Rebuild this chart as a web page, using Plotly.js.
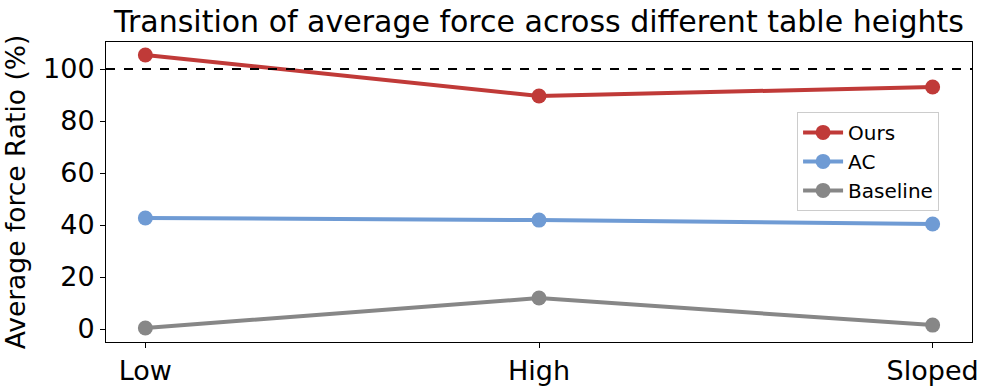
<!DOCTYPE html>
<html>
<head>
<meta charset="utf-8">
<script src="https://cdn.plot.ly/plotly-3.0.1.min.js"></script>
<style>
  body { margin: 0; background: #fff; }
  #chart { width: 986px; height: 390px; }
</style>
</head>
<body>
<div id="chart"></div>
<script>
// Table height conditions
const heights = ['Low', 'High', 'Sloped'];

// Average force ratio (%) per method
const oursValues = [105.4, 89.6, 93.1];
const acValues = [42.7, 41.9, 40.4];
const baselineValues = [0.4, 11.9, 1.5];

const referenceLevel = 100;

function lineTrace(name, values, color) {
    return {
        type: 'scatter',
        mode: 'lines+markers',
        x: [0, 1, 2],
        y: values,
        name: name,
        line: { color: color, width: 4 },
        marker: { color: color, size: 15 }
    };
}

const data = [
    lineTrace('Ours', oursValues, '#c03a38'),
    lineTrace('AC', acValues, '#6f9bd4'),
    lineTrace('Baseline', baselineValues, '#878787')
];

const layout = {
    width: 986,
    height: 390,
    paper_bgcolor: '#fff',
    plot_bgcolor: '#fff',
    font: { family: 'DejaVu Sans', color: '#000' },
    margin: { l: 106, r: 14, t: 42, b: 48, pad: 0 },
    title: {
        text: 'Transition of average force across different table heights',
        font: { size: 30 },
        x: 0.5, xref: 'paper', xanchor: 'center',
        y: 0.972, yref: 'container', yanchor: 'top'
    },
    xaxis: {
        range: [-0.1, 2.1],
        tickvals: [0, 1, 2],
        ticktext: heights,
        tickfont: { size: 27 },
        ticks: 'outside', ticklen: 5, tickcolor: '#000',
        showgrid: false, zeroline: false,
        showline: true, linecolor: '#000', linewidth: 1, mirror: true
    },
    yaxis: {
        range: [-5, 110.4],
        tickvals: [0, 20, 40, 60, 80, 100],
        tickfont: { size: 27 },
        ticks: 'outside', ticklen: 5, tickcolor: '#000',
        showgrid: false, zeroline: false,
        showline: true, linecolor: '#000', linewidth: 1, mirror: true,
        title: { text: 'Average force Ratio (%)', font: { size: 26.5 }, standoff: 12 }
    },
    shapes: [{
        type: 'line', xref: 'paper', yref: 'y',
        x0: 0, x1: 1, y0: referenceLevel, y1: referenceLevel,
        line: { color: '#000', width: 2, dash: 'dash' }
    }],
    legend: {
        x: 0.798, y: 0.767, xanchor: 'left', yanchor: 'top',
        bgcolor: 'rgba(255,255,255,0.8)',
        bordercolor: '#cccccc', borderwidth: 1,
        font: { size: 20 },
        itemwidth: 40
    },
    showlegend: true
};

Plotly.newPlot('chart', data, layout, { displayModeBar: false, staticPlot: true });
</script>
</body>
</html>
